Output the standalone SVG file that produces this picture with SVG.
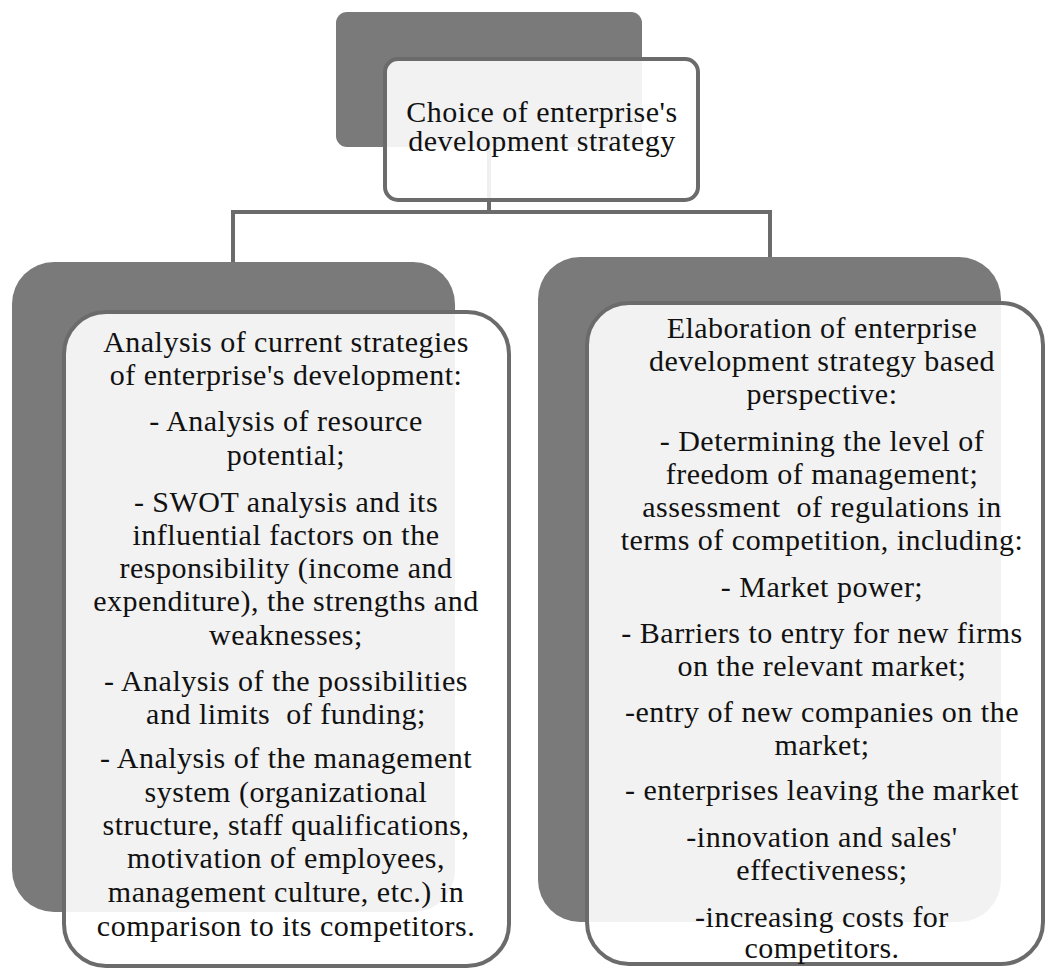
<svg xmlns="http://www.w3.org/2000/svg" width="1046" height="971" viewBox="0 0 1046 971">
<style>
.bg{fill:#7a7a7a}
.fg{fill:#ffffff;fill-opacity:0.9;stroke:#6b6b6b;stroke-width:4}
.conn{fill:none;stroke:#6b6b6b;stroke-width:4}
.t{font-family:"Liberation Serif",Tinos,"Times New Roman","DejaVu Serif",serif;font-size:30px;fill:#111;text-anchor:middle;letter-spacing:0.5px}
</style>
<rect width="1046" height="971" fill="#ffffff"/>
<g id="connectors">
<path class="conn" d="M489,147 V212 H233 V262"/>
<path class="conn" d="M489,212 H770 V257"/>
</g>
<g id="node-top">
<rect class="bg" x="336" y="12" width="306" height="135" rx="11"/>
<rect class="fg" x="385" y="59" width="313" height="141" rx="13"/>
<g class="t">
<text x="542" y="122">Choice of enterprise's</text>
<text x="542" y="151">development strategy</text>
</g>
</g>
<g id="node-left">
<rect class="bg" x="12" y="262" width="443" height="650" rx="42"/>
<rect class="fg" x="64" y="312" width="445" height="654" rx="42"/>
<g class="t">
<text x="286" y="352">Analysis of current strategies</text>
<text x="286" y="385">of enterprise's development:</text>
<text x="286" y="431">- Analysis of resource</text>
<text x="286" y="465">potential;</text>
<text x="286" y="512">- SWOT analysis and its</text>
<text x="286" y="545">influential factors on the</text>
<text x="286" y="578">responsibility (income and</text>
<text x="286" y="611">expenditure), the strengths and</text>
<text x="286" y="645">weaknesses;</text>
<text x="286" y="691">- Analysis of the possibilities</text>
<text x="286" y="724" xml:space="preserve">and limits  of funding;</text>
<text x="286" y="768">- Analysis of the management</text>
<text x="286" y="802">system (organizational</text>
<text x="286" y="835">structure, staff qualifications,</text>
<text x="286" y="868">motivation of employees,</text>
<text x="286" y="902">management culture, etc.) in</text>
<text x="286" y="936">comparison to its competitors.</text>
</g>
</g>
<g id="node-right">
<rect class="bg" x="538" y="257" width="463" height="665" rx="42"/>
<rect class="fg" x="587" y="303" width="456" height="661" rx="42"/>
<g class="t">
<text x="822" y="338">Elaboration of enterprise</text>
<text x="822" y="371">development strategy based</text>
<text x="822" y="404">perspective:</text>
<text x="822" y="451">- Determining the level of</text>
<text x="822" y="484">freedom of management;</text>
<text x="822" y="517" xml:space="preserve">assessment  of regulations in</text>
<text x="822" y="550">terms of competition, including:</text>
<text x="822" y="597">- Market power;</text>
<text x="822" y="643">- Barriers to entry for new firms</text>
<text x="822" y="676">on the relevant market;</text>
<text x="822" y="722">-entry of new companies on the</text>
<text x="822" y="755">market;</text>
<text x="822" y="800">- enterprises leaving the market</text>
<text x="822" y="847">-innovation and sales'</text>
<text x="822" y="880">effectiveness;</text>
<text x="822" y="927">-increasing costs for</text>
<text x="822" y="958">competitors.</text>
</g>
</g>
</svg>
